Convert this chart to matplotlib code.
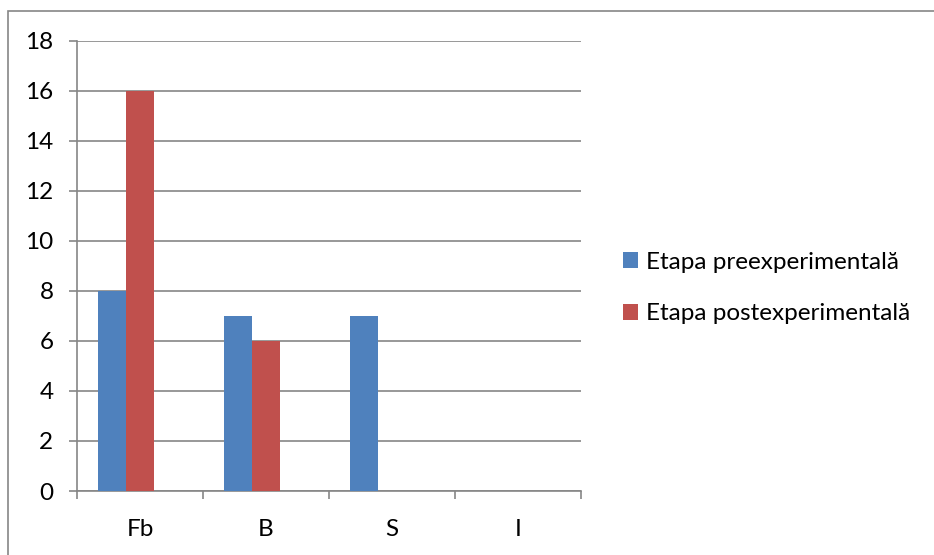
import matplotlib.pyplot as plt
import numpy as np
from matplotlib.patches import Patch, Rectangle

categories = ['Fb', 'B', 'S', 'I']
pre_values = [8, 7, 7, 0]
post_values = [16, 6, 0, 0]
series_labels = ['Etapa preexperimentală', 'Etapa postexperimentală']
y_ticks = [0, 2, 4, 6, 8, 10, 12, 14, 16, 18]

BLUE = '#4F81BD'
RED = '#C0504D'
GRID = '#868686'

plt.rcParams['font.family'] = ['Lato', 'DejaVu Sans']

W, H = 934, 555
fig = plt.figure(figsize=(W / 100, H / 100), dpi=100)

# outer chart border (right/bottom edges are cut off in the original)
fig.patches.append(Rectangle((8 / W, -0.1), 1.2, (H - 11) / H + 0.1, transform=fig.transFigure,
                             fill=False, edgecolor=GRID, linewidth=1.2))

ax = fig.add_axes([77 / W, (H - 491) / H, 504 / W, (491 - 40.7) / H])

# Excel layout: three series slots per category (third one empty), gap width 150%
n_slots = 3
width = 1 / (n_slots + 1.5)
x = np.arange(len(categories))
ax.bar(x - width, pre_values, width, color=BLUE, align='center', zorder=3)
ax.bar(x, post_values, width, color=RED, align='center', zorder=3)

ax.set_xlim(-0.5, len(categories) - 0.5)
ax.set_ylim(0, 18)
ax.set_yticks(y_ticks)
ax.yaxis.grid(True, color=GRID, linewidth=1.2, zorder=0)
ax.set_axisbelow(True)

ax.set_xticks(x)
ax.set_xticklabels(categories)
ax.set_xticks(np.arange(len(categories) + 1) - 0.5, minor=True)
ax.tick_params(axis='x', which='major', length=0, pad=20, labelsize=17.5)
ax.tick_params(axis='x', which='minor', length=6, width=1.2, color=GRID, direction='out')
ax.tick_params(axis='y', length=6, width=1.2, color=GRID, direction='out', pad=11, labelsize=17.5)

for side in ['top', 'right']:
    ax.spines[side].set_visible(False)
for side in ['left', 'bottom']:
    ax.spines[side].set_color(GRID)
    ax.spines[side].set_linewidth(1.2)

handles = [Patch(facecolor=BLUE), Patch(facecolor=RED)]
fig.legend(handles, series_labels, loc='center left', bbox_to_anchor=(601 / W, 1 - 288 / H),
           frameon=False, fontsize=17.5, handlelength=0.62, handleheight=0.62,
           handletextpad=0.35, labelspacing=1.25)

fig.savefig('out.png', dpi=100)
